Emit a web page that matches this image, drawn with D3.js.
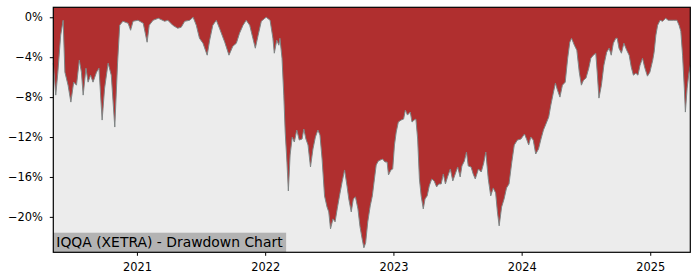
<!DOCTYPE html>
<html>
<head>
<meta charset="utf-8">
<script src="https://cdn.jsdelivr.net/npm/d3@7"></script>
<style>
  body { margin: 0; background: #fff; }
  svg { display: block; font-family: "DejaVu Sans", sans-serif; }
  .axis path, .axis line { stroke: #000; }
  .axis text { fill: #000; font-size: 11.4px; font-family: "DejaVu Sans", sans-serif; }
</style>
</head>
<body>
<div id="drawdown_chart"></div>
<script>
// drawdown readings (percent below previous high)
var dates = [
  "2020-05-08","2020-05-15","2020-05-21","2020-05-29","2020-06-05","2020-06-10","2020-06-19","2020-06-27",
  "2020-07-05","2020-07-13","2020-07-21","2020-07-27","2020-08-01","2020-08-09","2020-08-15","2020-08-22",
  "2020-08-29","2020-09-08","2020-09-15","2020-09-24","2020-10-01","2020-10-11","2020-10-20","2020-10-30",
  "2020-11-07","2020-11-13","2020-11-22","2020-12-07","2020-12-14","2020-12-21","2021-01-04","2021-01-19",
  "2021-01-30","2021-02-05","2021-02-16","2021-03-03","2021-03-21","2021-03-30","2021-04-13","2021-04-27",
  "2021-05-07","2021-05-17","2021-05-31","2021-06-10","2021-06-19","2021-06-28","2021-07-08","2021-07-20",
  "2021-07-27","2021-08-05","2021-08-15","2021-08-24","2021-09-08","2021-09-20","2021-10-01","2021-10-11",
  "2021-10-20","2021-10-30","2021-11-08","2021-11-18","2021-11-27","2021-12-04","2021-12-12","2021-12-21",
  "2021-12-31","2022-01-04","2022-01-15","2022-01-23","2022-01-27","2022-02-03","2022-02-09","2022-02-12",
  "2022-02-18","2022-02-23","2022-02-27","2022-03-04","2022-03-08","2022-03-13","2022-03-19","2022-03-25",
  "2022-04-01","2022-04-08","2022-04-16","2022-04-21","2022-04-27","2022-05-03","2022-05-10","2022-05-17",
  "2022-05-24","2022-05-31","2022-06-06","2022-06-12","2022-06-19","2022-06-26","2022-07-01","2022-07-06",
  "2022-07-13","2022-07-19","2022-07-25","2022-07-31","2022-08-08","2022-08-15","2022-08-22","2022-08-27",
  "2022-09-03","2022-09-09","2022-09-15","2022-09-22","2022-09-28","2022-10-04","2022-10-09","2022-10-14",
  "2022-10-20","2022-10-27","2022-11-02","2022-11-08","2022-11-13","2022-11-19","2022-12-01","2022-12-08",
  "2022-12-14","2022-12-18","2022-12-25","2022-12-30","2023-01-04","2023-01-09","2023-01-15","2023-01-23",
  "2023-01-30","2023-02-04","2023-02-10","2023-02-18","2023-02-23","2023-03-01","2023-03-06","2023-03-11",
  "2023-03-16","2023-03-21","2023-03-27","2023-04-01","2023-04-07","2023-04-13","2023-04-20","2023-04-27",
  "2023-05-04","2023-05-10","2023-05-17","2023-05-23","2023-05-29","2023-06-04","2023-06-12","2023-06-19",
  "2023-06-26","2023-07-03","2023-07-10","2023-07-15","2023-07-22","2023-07-28","2023-08-02","2023-08-10",
  "2023-08-16","2023-08-22","2023-08-31","2023-09-08","2023-09-15","2023-09-21","2023-09-28","2023-10-05",
  "2023-10-12","2023-10-19","2023-10-24","2023-10-29","2023-11-05","2023-11-12","2023-11-19","2023-11-26",
  "2023-12-04","2023-12-11","2023-12-20","2023-12-30","2024-01-09","2024-01-15","2024-01-21","2024-01-27",
  "2024-02-03","2024-02-10","2024-02-18","2024-02-25","2024-03-03","2024-03-10","2024-03-18","2024-03-24",
  "2024-03-31","2024-04-06","2024-04-12","2024-04-19","2024-04-26","2024-05-04","2024-05-11","2024-05-17",
  "2024-05-22","2024-05-30","2024-06-06","2024-06-13","2024-06-19","2024-06-25","2024-07-02","2024-07-10",
  "2024-07-16","2024-07-23","2024-07-30","2024-08-03","2024-08-08","2024-08-15","2024-08-22","2024-08-30",
  "2024-09-06","2024-09-12","2024-09-18","2024-09-25","2024-09-29","2024-10-04","2024-10-11","2024-10-18",
  "2024-10-26","2024-11-02","2024-11-08","2024-11-14","2024-11-21","2024-11-27","2024-12-03","2024-12-10",
  "2024-12-16","2024-12-24","2024-12-31","2025-01-08","2025-01-12","2025-01-17","2025-01-22","2025-01-29",
  "2025-02-05","2025-02-14","2025-02-21","2025-03-01","2025-03-08","2025-03-18","2025-03-24","2025-03-29",
  "2025-04-03","2025-04-08","2025-04-11","2025-04-16","2025-04-21","2025-04-25"
];
var drawdown = [
  -4.6,-7.8,-5.5,-1.8,-0.3,-5.5,-6.8,-8.5,
  -6.5,-6.8,-4.3,-5.5,-7.8,-5.1,-6.5,-5.8,
  -6.5,-5.5,-5.1,-10.3,-7.1,-4.6,-5.8,-11.0,
  -4.5,-0.8,-0.4,-0.6,-1.3,-0.4,-0.3,-0.6,
  -2.5,-0.8,-0.3,-0.1,-0.4,-0.3,-0.8,-1.1,
  -1.0,-0.4,-0.3,0,-0.8,-2.1,-2.6,-3.8,
  -2.3,-0.8,-0.3,-1.1,-2.5,-3.8,-2.9,-2.6,
  -1.6,-0.8,-0.3,-0.8,-2.1,-3.1,-1.8,-0.4,
  -0.1,0,-0.3,-2.1,-3.6,-2.3,-2.8,-2.1,
  -4.1,-7.8,-11.5,-14.5,-17.4,-13.8,-12.0,-12.5,
  -11.3,-12.3,-12.2,-11.2,-12.2,-12.8,-15.0,-13.2,
  -12.0,-11.3,-11.8,-14.2,-17.9,-19.0,-19.5,-21.2,
  -20.2,-20.5,-19.2,-18.0,-16.5,-15.3,-16.9,-18.2,
  -19.5,-18.2,-18.0,-19.2,-21.0,-22.2,-23.1,-22.6,
  -20.5,-18.9,-17.9,-16.2,-14.8,-14.4,-14.2,-14.5,
  -14.5,-15.8,-15.3,-15.2,-12.8,-11.5,-10.5,-10.3,
  -10.2,-9.3,-9.8,-9.5,-10.5,-10.3,-10.2,-12.2,
  -16.2,-17.9,-19.2,-18.2,-17.9,-16.9,-16.2,-16.4,
  -17.0,-16.7,-16.7,-15.7,-16.7,-16.0,-15.2,-16.4,
  -15.7,-15.0,-16.0,-14.9,-14.4,-13.5,-14.9,-15.0,
  -15.7,-16.2,-15.2,-15.5,-14.6,-13.5,-16.2,-17.9,
  -17.1,-17.6,-19.5,-20.9,-19.0,-18.2,-17.1,-16.7,
  -14.5,-12.8,-12.3,-12.2,-11.7,-12.2,-12.8,-12.0,
  -12.3,-13.7,-13.2,-12.2,-11.3,-10.7,-10.0,-8.8,
  -7.6,-6.6,-7.3,-8.0,-6.8,-6.5,-4.1,-2.5,
  -2.1,-2.8,-3.3,-5.5,-6.8,-6.3,-6.1,-5.1,
  -4.1,-3.8,-3.6,-5.5,-8.1,-6.8,-4.8,-3.5,
  -3.1,-3.8,-2.6,-2.1,-2.1,-3.1,-3.6,-2.6,
  -3.3,-3.8,-5.0,-5.8,-5.6,-5.8,-4.8,-4.1,
  -5.0,-5.9,-5.5,-4.3,-3.5,-1.8,-0.8,-0.3,
  -0.4,-0.1,-0.3,-0.3,-0.3,-0.3,-0.8,-1.4,
  -3.8,-7.1,-9.5,-7.1,-5.6,-4.8
];
var yTicks = [0, -4, -8, -12, -16, -20];
var xTickYears = ["2021", "2022", "2023", "2024", "2025"];
var yLimits = [-23.55, 1.0];
var chartTitle = "IQQA (XETRA) - Drawdown Chart";

function paint_drawdown_chart(){
	var parseDate = d3.timeParse("%Y-%m-%d");
	var data = dates.map(function(d, i) { return {date: parseDate(d), dd: drawdown[i]}; });

	var svg = d3.select("#drawdown_chart").append("svg"),
	    margin = {top: 7.3, right: 9.7, bottom: 27.7, left: 53.3},
	    width = 700 - margin.left - margin.right,
	    height = 280 - margin.top - margin.bottom;

	svg.attr("width", 700).attr("height", 280);

	var x = d3.scaleTime().range([0, width]).domain(d3.extent(data, function(d) { return d.date; }));
	var y = d3.scaleLinear().range([height, 0]).domain(yLimits);

	var g = svg.append("g")
	    .attr("transform", "translate(" + margin.left + "," + margin.top + ")");

	g.append("rect")
	    .attr("width", width)
	    .attr("height", height)
	    .attr("fill", "#ececec");

	// red fill from the curve up to the top of the axes
	var area = d3.area()
	    .x(function(d) { return x(d.date); })
	    .y0(0)
	    .y1(function(d) { return y(d.dd); });

	var line = d3.line()
	    .x(function(d) { return x(d.date); })
	    .y(function(d) { return y(d.dd); });

	g.append("path")
	    .datum(data)
	    .attr("fill", "#b02f2f")
	    .attr("d", area);

	g.append("path")
	    .datum(data)
	    .attr("fill", "none")
	    .attr("stroke", "#7f8585")
	    .attr("stroke-width", 1)
	    .attr("d", line);

	var xAxis = d3.axisBottom(x)
	    .tickValues(xTickYears.map(function(s) { return parseDate(s + "-01-01"); }))
	    .tickFormat(d3.timeFormat("%Y"))
	    .tickSize(3.5)
	    .tickPadding(7);

	var yAxis = d3.axisLeft(y)
	    .tickValues(yTicks)
	    .tickFormat(function(d) { return (d < 0 ? "\u2212" + (-d) : d) + "%"; })
	    .tickSize(3.5)
	    .tickPadding(7);

	g.append("g")
	    .attr("class", "axis axis--x")
	    .attr("transform", "translate(0," + height + ")")
	    .call(xAxis)
	    .call(function(a) { a.select(".domain").remove(); });

	g.append("g")
	    .attr("class", "axis axis--y")
	    .call(yAxis)
	    .call(function(a) { a.select(".domain").remove(); });

	// title box in the lower left corner
	var label = g.append("g");
	var txt = label.append("text")
	    .attr("x", 3)
	    .attr("y", height - 5.6)
	    .style("font-size", "13.9px")
	    .style("fill", "#000")
	    .text(chartTitle);
	var bb = txt.node().getBBox();
	label.insert("rect", "text")
	    .attr("x", 0)
	    .attr("y", height - 19.6)
	    .attr("width", bb.width + 6)
	    .attr("height", 19.6)
	    .attr("fill", "#b3b3b3");

	g.append("rect")
	    .attr("width", width)
	    .attr("height", height)
	    .attr("fill", "none")
	    .attr("stroke", "#000")
	    .attr("stroke-width", 1.2);
}

paint_drawdown_chart();
</script>
</body>
</html>
